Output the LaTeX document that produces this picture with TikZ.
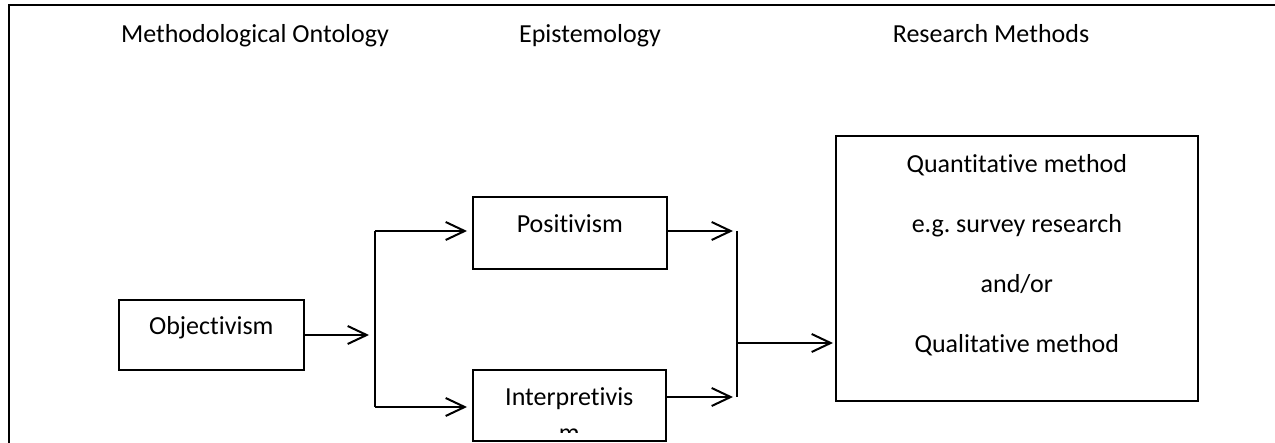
\documentclass[tikz,border=0pt]{standalone}
\usepackage{fontspec}
\setmainfont{Carlito}[Ligatures=NoCommon]
\frenchspacing
\usetikzlibrary{arrows.meta,positioning,calc}
\tikzset{
  box/.style  = {draw=black, line width=0.8pt, inner sep=0pt,
                 font=\fontsize{13}{15.6}\selectfont},
  lab/.style  = {font=\fontsize{13}{15.6}\selectfont, anchor=base, inner sep=0pt},
  arr/.style  = {-{Straight Barb[length=9.5pt,width=9pt]}, draw=black, line width=1pt},
  lin/.style  = {draw=black, line width=1pt},
}
\begin{document}
\begin{tikzpicture}[x=0.5pt, y=-0.5pt]
  \useasboundingbox (0,0) rectangle (1275,443);
  % frame
  \draw[line width=1.2pt] (9,443) -- (9,5) -- (1275,5);
  % headings
  \node[lab] (hont) at (255,43) {Methodological Ontology};
  \node[lab] (hepi) at (590,43) {Epistemology};
  \node[lab] (hres) at (991,43) {Research Methods};
  % boxes
  \node[box, minimum width=92.5pt, text height=17.5pt, text depth=17.5pt,
        anchor=base west] (obj) at (118,335) {Objectivism};
  \node[box, minimum width=97pt, text height=18pt, text depth=18pt,
        anchor=base west] (pos) at (472,233) {Positivism};
  \node[box, minimum width=96.5pt, text height=18pt, text depth=17.5pt,
        anchor=base west] (int) at (472,406) {Interpretivis};
  \begin{scope}
    \clip (int.north west) rectangle ($(int.north east)+(0,63)$);
    \node[lab] (intm) at ($(int.base)+(0,35)$) {m};
  \end{scope}
  \node[box, minimum width=181pt, minimum height=132.5pt,
        anchor=north west] (meth) at (835,135) {};
  \foreach \t [count=\i from 0] in {Quantitative method, e.g. survey research,
                                    and/or, Qualitative method}
    \node[lab] (mline\i) at ($(meth.north)+(0,38+60*\i)$) {\t};
  % connectors
  \coordinate (lmid) at (375,335);
  \coordinate (ltop) at (375,231);
  \coordinate (lbot) at (375,407);
  \coordinate (rtop) at (737,231);
  \coordinate (rbot) at (737,397);
  \coordinate (rmid) at (737,343);
  \draw[arr, shorten >=3pt] (obj.east) -- (lmid);
  \draw[lin] (lbot) -- (ltop);
  \draw[arr, shorten >=2.5pt] (ltop) -- (ltop -| pos.west);
  \draw[arr, shorten >=2.5pt] (lbot) -- (lbot -| int.west);
  \draw[arr, shorten >=2pt] (pos.east |- rtop) -- (rtop);
  \draw[arr, shorten >=2pt] (int.east |- rbot) -- (rbot);
  \draw[lin] (rtop) -- (rbot);
  \draw[arr, shorten >=1pt] (rmid) -- (rmid -| meth.west);
\end{tikzpicture}
\end{document}
